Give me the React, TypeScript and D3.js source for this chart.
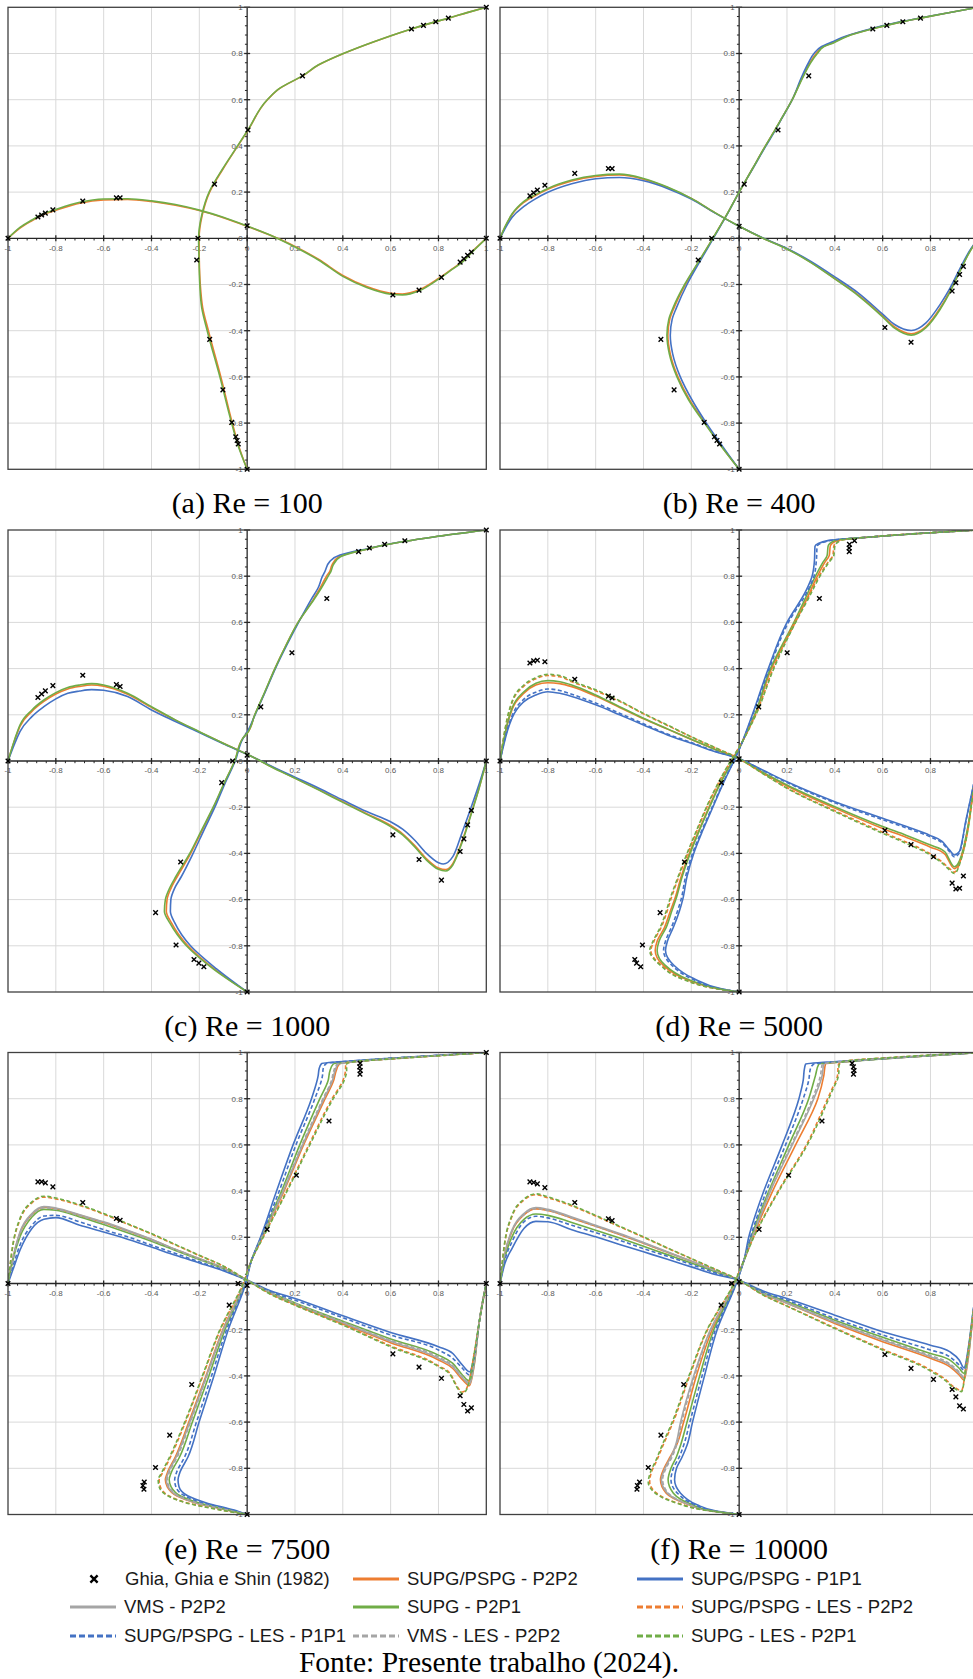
import React from 'react';
import * as d3 from 'd3';

type Pt = [number, number];

// ---------- layout ----------
const W = 973;
const H = 1679;
const PW = 478.3;
const PH = 462;

// ---------- axis ticks ----------
const tickValues = [-1, -0.8, -0.6, -0.4, -0.2, 0, 0.2, 0.4, 0.6, 0.8, 1];
const tickLabels = ['-1', '-0.8', '-0.6', '-0.4', '-0.2', '0', '0.2', '0.4', '0.6', '0.8', '1'];
const minorTicks = d3.range(-25, 26).map((i) => i * 0.04).filter((t) => Math.abs(Math.round(t * 5) - t * 5) > 1e-6);

// ---------- series ----------
const seriesKeys = ['P2P2', 'P1P1', 'VMS', 'P2P1', 'LES_P2P2', 'LES_P1P1', 'LES_VMS', 'LES_P2P1'];
const seriesLabels: Record<string, string> = {
  P2P2: 'SUPG/PSPG - P2P2',
  P1P1: 'SUPG/PSPG - P1P1',
  VMS: 'VMS - P2P2',
  P2P1: 'SUPG - P2P1',
  LES_P2P2: 'SUPG/PSPG - LES - P2P2',
  LES_P1P1: 'SUPG/PSPG - LES - P1P1',
  LES_VMS: 'VMS - LES - P2P2',
  LES_P2P1: 'SUPG - LES - P2P1',
};
const seriesColors: Record<string, string> = {
  P2P2: '#ED7D31', P1P1: '#4472C4', VMS: '#A5A5A5', P2P1: '#70AD47',
  LES_P2P2: '#ED7D31', LES_P1P1: '#4472C4', LES_VMS: '#A5A5A5', LES_P2P1: '#70AD47',
};
const dashedSeries = ['LES_P2P2', 'LES_P1P1', 'LES_VMS', 'LES_P2P1'];

// ---------- Ghia, Ghia e Shin (1982): u(y) on the vertical centre line [u, y], v(x) on the horizontal one [x, v] ----------
const ghiaU100: Pt[] = [[0,-1],[-0.03717,-0.8906],[-0.04192,-0.875],[-0.04775,-0.8594],[-0.06434,-0.7968],[-0.1015,-0.6562],[-0.15662,-0.4374],[-0.2109,-0.0938],[-0.20581,0],[-0.13641,0.2344],[0.00332,0.4688],[0.23151,0.7032],[0.68717,0.9062],[0.73722,0.9218],[0.78871,0.9376],[0.84123,0.9532],[1,1]];
const ghiaV100: Pt[] = [[-1,0],[-0.875,0.09233],[-0.8594,0.10091],[-0.8438,0.1089],[-0.8124,0.12317],[-0.6874,0.16077],[-0.5468,0.17507],[-0.5312,0.17527],[0,0.05454],[0.6094,-0.24533],[0.7188,-0.22445],[0.8126,-0.16914],[0.8906,-0.10313],[0.9062,-0.08864],[0.9218,-0.07391],[0.9376,-0.05906],[1,0]];

const ghiaU400: Pt[] = [[0,-1],[-0.08186,-0.8906],[-0.09266,-0.875],[-0.10338,-0.8594],[-0.14612,-0.7968],[-0.272,-0.6562],[-0.32726,-0.4374],[-0.17119,-0.0938],[-0.11477,0],[0.02135,0.2344],[0.16256,0.4688],[0.29093,0.7032],[0.55892,0.9062],[0.61756,0.9218],[0.68439,0.9376],[0.75837,0.9532],[1,1]];
const ghiaV400: Pt[] = [[-1,0],[-0.875,0.1836],[-0.8594,0.19713],[-0.8438,0.2092],[-0.8124,0.22965],[-0.6874,0.28124],[-0.5468,0.30203],[-0.5312,0.30174],[0,0.05186],[0.6094,-0.38598],[0.7188,-0.44993],[0.8906,-0.22847],[0.9062,-0.19254],[0.9218,-0.15663],[0.9376,-0.12146],[1,0]];

const ghiaU1000: Pt[] = [[0,-1],[-0.18109,-0.8906],[-0.20196,-0.875],[-0.2222,-0.8594],[-0.2973,-0.7968],[-0.38289,-0.6562],[-0.27805,-0.4374],[-0.10648,-0.0938],[-0.0608,0],[0.05702,0.2344],[0.18719,0.4688],[0.33304,0.7032],[0.46604,0.9062],[0.51117,0.9218],[0.57492,0.9376],[0.65928,0.9532],[1,1]];
const ghiaV1000: Pt[] = [[-1,0],[-0.875,0.27485],[-0.8594,0.29012],[-0.8438,0.30353],[-0.8124,0.32627],[-0.6874,0.37095],[-0.5468,0.33075],[-0.5312,0.32235],[0,0.02526],[0.6094,-0.31966],[0.7188,-0.42665],[0.8126,-0.5155],[0.8906,-0.39188],[0.9062,-0.33714],[0.9218,-0.27669],[0.9376,-0.21388],[1,0]];

const ghiaU5000: Pt[] = [[0,-1],[-0.41165,-0.8906],[-0.42901,-0.875],[-0.43643,-0.8594],[-0.40435,-0.7968],[-0.3305,-0.6562],[-0.22855,-0.4374],[-0.07404,-0.0938],[-0.03039,0],[0.08183,0.2344],[0.20087,0.4688],[0.33556,0.7032],[0.46036,0.9062],[0.45992,0.9218],[0.4612,0.9376],[0.48223,0.9532],[1,1]];
const ghiaV5000: Pt[] = [[-1,0],[-0.875,0.42447],[-0.8594,0.43329],[-0.8438,0.43648],[-0.8124,0.42951],[-0.6874,0.35368],[-0.5468,0.28066],[-0.5312,0.2728],[0,0.00945],[0.6094,-0.30018],[0.7188,-0.36214],[0.8126,-0.41442],[0.8906,-0.52876],[0.9062,-0.55408],[0.9218,-0.55069],[0.9376,-0.49774],[1,0]];

const ghiaU7500: Pt[] = [[0,-1],[-0.43154,-0.8906],[-0.4359,-0.875],[-0.43025,-0.8594],[-0.38324,-0.7968],[-0.32393,-0.6562],[-0.23176,-0.4374],[-0.07503,-0.0938],[-0.038,0],[0.08342,0.2344],[0.20591,0.4688],[0.34228,0.7032],[0.47167,0.9062],[0.47323,0.9218],[0.47048,0.9376],[0.47244,0.9532],[1,1]];
const ghiaV7500: Pt[] = [[-1,0],[-0.875,0.43979],[-0.8594,0.4403],[-0.8438,0.43564],[-0.8124,0.41824],[-0.6874,0.3506],[-0.5468,0.28117],[-0.5312,0.27348],[0,-0.00824],[0.6094,-0.30448],[0.7188,-0.36213],[0.8126,-0.4105],[0.8906,-0.4859],[0.9062,-0.52347],[0.9218,-0.55216],[0.9376,-0.53858],[1,0]];

const ghiaU10000: Pt[] = [[0,-1],[-0.42735,-0.8906],[-0.42537,-0.875],[-0.41657,-0.8594],[-0.38,-0.7968],[-0.32709,-0.6562],[-0.23186,-0.4374],[-0.0754,-0.0938],[-0.03111,0],[0.08344,0.2344],[0.20673,0.4688],[0.34635,0.7032],[0.47804,0.9062],[0.4807,0.9218],[0.47783,0.9376],[0.47221,0.9532],[1,1]];
const ghiaV10000: Pt[] = [[-1,0],[-0.875,0.43983],[-0.8594,0.43733],[-0.8438,0.43124],[-0.8124,0.41487],[-0.6874,0.3507],[-0.5468,0.28003],[-0.5312,0.27224],[0,0.00831],[0.6094,-0.30719],[0.7188,-0.36737],[0.8126,-0.41496],[0.8906,-0.45863],[0.9062,-0.49099],[0.9218,-0.52987],[0.9376,-0.54302],[1,0]];

// ---------- simulated profiles, Re = 100 ----------
const u100: Record<string, Pt[]> = {
  P2P2: [[0,-1],[-0.035,-0.9],[-0.062,-0.8],[-0.11,-0.6],[-0.162,-0.4],[-0.186,-0.3],[-0.196,-0.2],[-0.2,-0.1],[-0.201,0],[-0.188,0.1],[-0.157,0.2],[-0.101,0.3],[-0.039,0.4],[0.004,0.469],[0.085,0.6],[0.138,0.65],[0.232,0.703],[0.298,0.75],[0.403,0.8],[0.528,0.85],[0.668,0.9],[0.79,0.938],[0.842,0.953],[0.92,0.977],[1,1]],
  P2P1: [[0,-1],[-0.037,-0.9],[-0.065,-0.8],[-0.114,-0.6],[-0.167,-0.4],[-0.19,-0.3],[-0.198,-0.2],[-0.201,-0.1],[-0.203,0],[-0.19,0.1],[-0.159,0.2],[-0.103,0.3],[-0.04,0.4],[0.003,0.469],[0.084,0.6],[0.137,0.65],[0.231,0.703],[0.297,0.75],[0.402,0.8],[0.527,0.85],[0.667,0.9],[0.789,0.938],[0.841,0.953],[0.92,0.977],[1,1]],
};
const v100: Record<string, Pt[]> = {
  P2P2: [[-1,0],[-0.95,0.044],[-0.9,0.076],[-0.85,0.104],[-0.8,0.121],[-0.7,0.152],[-0.6,0.166],[-0.5,0.168],[-0.4,0.159],[-0.3,0.143],[-0.2,0.12],[-0.1,0.089],[0,0.052],[0.1,0.012],[0.2,-0.035],[0.3,-0.092],[0.4,-0.161],[0.5,-0.209],[0.6,-0.238],[0.65,-0.241],[0.72,-0.223],[0.8,-0.174],[0.85,-0.138],[0.9,-0.1],[0.95,-0.048],[1,0]],
  P2P1: [[-1,0],[-0.95,0.047],[-0.9,0.079],[-0.85,0.107],[-0.8,0.125],[-0.7,0.156],[-0.6,0.17],[-0.5,0.171],[-0.4,0.162],[-0.3,0.146],[-0.2,0.122],[-0.1,0.091],[0,0.053],[0.1,0.012],[0.2,-0.038],[0.3,-0.095],[0.4,-0.165],[0.5,-0.213],[0.6,-0.242],[0.65,-0.245],[0.72,-0.227],[0.8,-0.177],[0.85,-0.14],[0.9,-0.103],[0.95,-0.05],[1,0]],
};

// ---------- Re = 400 ----------
const u400: Record<string, Pt[]> = {
  P2P2: [[0,-1],[-0.074,-0.9],[-0.142,-0.8],[-0.207,-0.7],[-0.256,-0.6],[-0.288,-0.5],[-0.298,-0.42],[-0.29,-0.35],[-0.272,-0.3],[-0.225,-0.2],[-0.168,-0.1],[-0.11,0],[-0.053,0.1],[0,0.2],[0.055,0.3],[0.11,0.4],[0.15,0.469],[0.167,0.5],[0.222,0.6],[0.266,0.7],[0.296,0.76],[0.322,0.8],[0.352,0.83],[0.394,0.848],[0.45,0.875],[0.558,0.907],[0.684,0.938],[0.758,0.953],[0.87,0.975],[1,1]],
  P1P1: [[0,-1],[-0.07,-0.9],[-0.137,-0.8],[-0.197,-0.7],[-0.246,-0.6],[-0.278,-0.5],[-0.288,-0.42],[-0.28,-0.35],[-0.262,-0.3],[-0.218,-0.2],[-0.164,-0.1],[-0.108,0],[-0.052,0.1],[0,0.2],[0.056,0.3],[0.112,0.4],[0.152,0.469],[0.168,0.5],[0.222,0.6],[0.262,0.7],[0.29,0.76],[0.313,0.8],[0.345,0.83],[0.388,0.85],[0.448,0.876],[0.556,0.908],[0.683,0.939],[0.757,0.954],[0.87,0.975],[1,1]],
  P2P1: [[0,-1],[-0.075,-0.9],[-0.145,-0.8],[-0.211,-0.7],[-0.26,-0.6],[-0.292,-0.5],[-0.302,-0.42],[-0.294,-0.35],[-0.276,-0.3],[-0.228,-0.2],[-0.169,-0.1],[-0.11,0],[-0.053,0.1],[0,0.2],[0.055,0.3],[0.11,0.4],[0.15,0.469],[0.167,0.5],[0.222,0.6],[0.268,0.7],[0.299,0.76],[0.327,0.8],[0.355,0.83],[0.396,0.847],[0.451,0.874],[0.559,0.907],[0.684,0.938],[0.758,0.953],[0.87,0.975],[1,1]],
};
const v400: Record<string, Pt[]> = {
  P2P2: [[-1,0],[-0.98,0.046],[-0.95,0.102],[-0.9,0.156],[-0.85,0.186],[-0.8,0.212],[-0.7,0.248],[-0.6,0.268],[-0.5,0.274],[-0.4,0.256],[-0.3,0.22],[-0.2,0.172],[-0.1,0.11],[0,0.052],[0.1,0],[0.2,-0.045],[0.3,-0.104],[0.4,-0.174],[0.5,-0.247],[0.6,-0.336],[0.65,-0.384],[0.72,-0.413],[0.78,-0.383],[0.84,-0.303],[0.88,-0.232],[0.92,-0.147],[0.96,-0.065],[1,0]],
  P1P1: [[-1,0],[-0.98,0.04],[-0.95,0.09],[-0.9,0.138],[-0.85,0.172],[-0.8,0.199],[-0.7,0.236],[-0.6,0.258],[-0.5,0.263],[-0.4,0.249],[-0.3,0.216],[-0.2,0.17],[-0.1,0.109],[0,0.052],[0.1,0.001],[0.2,-0.044],[0.3,-0.1],[0.4,-0.167],[0.5,-0.238],[0.6,-0.328],[0.65,-0.373],[0.72,-0.399],[0.78,-0.367],[0.84,-0.287],[0.88,-0.219],[0.92,-0.138],[0.96,-0.06],[1,0]],
  P2P1: [[-1,0],[-0.98,0.048],[-0.95,0.105],[-0.9,0.16],[-0.85,0.19],[-0.8,0.216],[-0.7,0.252],[-0.6,0.272],[-0.5,0.278],[-0.4,0.259],[-0.3,0.222],[-0.2,0.173],[-0.1,0.11],[0,0.052],[0.1,0],[0.2,-0.046],[0.3,-0.105],[0.4,-0.176],[0.5,-0.25],[0.6,-0.34],[0.65,-0.389],[0.72,-0.419],[0.78,-0.388],[0.84,-0.308],[0.88,-0.236],[0.92,-0.15],[0.96,-0.066],[1,0]],
};

// ---------- Re = 1000 ----------
const u1000: Record<string, Pt[]> = {
  P2P2: [[0,-1],[-0.138,-0.9],[-0.248,-0.8],[-0.317,-0.7],[-0.338,-0.65],[-0.335,-0.6],[-0.318,-0.55],[-0.292,-0.5],[-0.236,-0.4],[-0.188,-0.3],[-0.14,-0.2],[-0.097,-0.1],[-0.052,0],[-0.017,0.1],[0,0.12],[0.032,0.2],[0.075,0.3],[0.116,0.4],[0.162,0.5],[0.213,0.6],[0.277,0.7],[0.306,0.75],[0.332,0.8],[0.345,0.82],[0.355,0.849],[0.385,0.885],[0.44,0.903],[0.5,0.917],[0.575,0.935],[0.66,0.951],[0.78,0.97],[1,1]],
  P1P1: [[0,-1],[-0.128,-0.9],[-0.237,-0.8],[-0.303,-0.7],[-0.321,-0.65],[-0.319,-0.6],[-0.303,-0.55],[-0.275,-0.5],[-0.226,-0.4],[-0.181,-0.3],[-0.135,-0.2],[-0.094,-0.1],[-0.05,0],[-0.016,0.1],[0,0.125],[0.033,0.2],[0.076,0.3],[0.118,0.4],[0.165,0.5],[0.215,0.6],[0.268,0.7],[0.297,0.75],[0.315,0.8],[0.325,0.82],[0.346,0.864],[0.388,0.892],[0.44,0.906],[0.5,0.918],[0.575,0.935],[0.66,0.951],[0.78,0.97],[1,1]],
  P2P1: [[0,-1],[-0.142,-0.9],[-0.254,-0.8],[-0.324,-0.7],[-0.346,-0.65],[-0.342,-0.6],[-0.324,-0.55],[-0.298,-0.5],[-0.24,-0.4],[-0.191,-0.3],[-0.142,-0.2],[-0.098,-0.1],[-0.052,0],[-0.017,0.1],[0,0.12],[0.032,0.2],[0.074,0.3],[0.116,0.4],[0.162,0.5],[0.213,0.6],[0.28,0.7],[0.311,0.75],[0.339,0.8],[0.35,0.82],[0.36,0.849],[0.39,0.884],[0.44,0.902],[0.5,0.917],[0.575,0.935],[0.66,0.951],[0.78,0.97],[1,1]],
};
const v1000: Record<string, Pt[]> = {
  P2P2: [[-1,0],[-0.97,0.096],[-0.95,0.15],[-0.9,0.215],[-0.85,0.258],[-0.8,0.29],[-0.75,0.312],[-0.7,0.323],[-0.65,0.329],[-0.6,0.324],[-0.5,0.289],[-0.4,0.232],[-0.3,0.177],[-0.2,0.126],[-0.1,0.077],[0,0.029],[0.05,0.003],[0.1,-0.024],[0.2,-0.074],[0.3,-0.124],[0.4,-0.176],[0.5,-0.228],[0.6,-0.279],[0.65,-0.315],[0.7,-0.365],[0.75,-0.423],[0.8,-0.463],[0.83,-0.47],[0.86,-0.444],[0.9,-0.343],[0.94,-0.216],[0.97,-0.116],[1,0]],
  P1P1: [[-1,0],[-0.97,0.08],[-0.95,0.127],[-0.9,0.192],[-0.85,0.235],[-0.8,0.269],[-0.75,0.293],[-0.7,0.303],[-0.65,0.309],[-0.6,0.306],[-0.5,0.279],[-0.4,0.221],[-0.3,0.171],[-0.2,0.123],[-0.1,0.075],[0,0.029],[0.05,0.004],[0.1,-0.022],[0.2,-0.07],[0.3,-0.118],[0.4,-0.169],[0.5,-0.219],[0.6,-0.263],[0.65,-0.295],[0.7,-0.342],[0.75,-0.4],[0.8,-0.44],[0.82,-0.446],[0.86,-0.414],[0.9,-0.306],[0.94,-0.19],[0.97,-0.1],[1,0]],
  P2P1: [[-1,0],[-0.97,0.1],[-0.95,0.156],[-0.9,0.221],[-0.85,0.264],[-0.8,0.296],[-0.75,0.318],[-0.7,0.329],[-0.65,0.335],[-0.6,0.329],[-0.5,0.293],[-0.4,0.235],[-0.3,0.178],[-0.2,0.127],[-0.1,0.077],[0,0.029],[0.05,0.003],[0.1,-0.025],[0.2,-0.075],[0.3,-0.126],[0.4,-0.179],[0.5,-0.231],[0.6,-0.284],[0.65,-0.32],[0.7,-0.371],[0.75,-0.429],[0.8,-0.469],[0.83,-0.476],[0.86,-0.45],[0.9,-0.349],[0.94,-0.22],[0.97,-0.118],[1,0]],
};

// ---------- Re = 5000 ----------
const u5000: Record<string, Pt[]> = {
  P2P2: [[0,-1],[-0.094,-0.985],[-0.222,-0.945],[-0.318,-0.884],[-0.351,-0.82],[-0.343,-0.78],[-0.312,-0.72],[-0.288,-0.65],[-0.27,-0.6],[-0.242,-0.5],[-0.208,-0.4],[-0.168,-0.3],[-0.126,-0.2],[-0.082,-0.1],[-0.029,0],[0,0.055],[0.066,0.2],[0.135,0.4],[0.235,0.6],[0.282,0.7],[0.327,0.8],[0.358,0.86],[0.377,0.89],[0.381,0.93],[0.41,0.955],[0.55,0.97],[0.75,0.985],[1,1]],
  P1P1: [[0,-1],[-0.078,-0.985],[-0.19,-0.942],[-0.273,-0.884],[-0.308,-0.82],[-0.3,-0.78],[-0.275,-0.72],[-0.25,-0.65],[-0.236,-0.6],[-0.218,-0.5],[-0.19,-0.4],[-0.152,-0.3],[-0.11,-0.2],[-0.068,-0.1],[-0.022,0],[0,0.05],[0.055,0.2],[0.122,0.4],[0.2,0.6],[0.278,0.734],[0.305,0.8],[0.315,0.87],[0.317,0.929],[0.375,0.955],[0.55,0.97],[0.75,0.985],[1,1]],
  P2P1: [[0,-1],[-0.09,-0.985],[-0.215,-0.945],[-0.31,-0.884],[-0.343,-0.82],[-0.335,-0.78],[-0.305,-0.72],[-0.282,-0.65],[-0.265,-0.6],[-0.238,-0.5],[-0.205,-0.4],[-0.166,-0.3],[-0.124,-0.2],[-0.08,-0.1],[-0.028,0],[0,0.055],[0.065,0.2],[0.131,0.4],[0.229,0.6],[0.275,0.7],[0.319,0.8],[0.35,0.86],[0.368,0.89],[0.372,0.93],[0.4,0.955],[0.55,0.97],[0.75,0.985],[1,1]],
  LES_P2P2: [[0,-1],[-0.098,-0.985],[-0.231,-0.945],[-0.326,-0.884],[-0.369,-0.82],[-0.356,-0.78],[-0.326,-0.72],[-0.301,-0.65],[-0.286,-0.6],[-0.252,-0.5],[-0.215,-0.4],[-0.176,-0.3],[-0.135,-0.2],[-0.089,-0.1],[-0.035,0],[0,0.06],[0.069,0.2],[0.142,0.4],[0.232,0.6],[0.284,0.7],[0.334,0.8],[0.371,0.86],[0.392,0.89],[0.396,0.93],[0.42,0.955],[0.55,0.97],[0.75,0.985],[1,1]],
  LES_P1P1: [[0,-1],[-0.085,-0.985],[-0.2,-0.942],[-0.282,-0.884],[-0.316,-0.82],[-0.308,-0.78],[-0.283,-0.72],[-0.258,-0.65],[-0.243,-0.6],[-0.224,-0.5],[-0.195,-0.4],[-0.156,-0.3],[-0.113,-0.2],[-0.07,-0.1],[-0.023,0],[0,0.05],[0.057,0.2],[0.126,0.4],[0.206,0.6],[0.285,0.734],[0.313,0.8],[0.323,0.87],[0.326,0.929],[0.382,0.955],[0.55,0.97],[0.75,0.985],[1,1]],
  LES_P2P1: [[0,-1],[-0.1,-0.985],[-0.235,-0.945],[-0.33,-0.884],[-0.374,-0.82],[-0.36,-0.78],[-0.33,-0.72],[-0.305,-0.65],[-0.29,-0.6],[-0.255,-0.5],[-0.218,-0.4],[-0.178,-0.3],[-0.137,-0.2],[-0.09,-0.1],[-0.036,0],[0,0.06],[0.07,0.2],[0.145,0.4],[0.236,0.6],[0.288,0.7],[0.338,0.8],[0.375,0.86],[0.396,0.89],[0.4,0.93],[0.424,0.955],[0.55,0.97],[0.75,0.985],[1,1]],
};
const v5000: Record<string, Pt[]> = {
  P2P2: [[-1,0],[-0.97,0.155],[-0.95,0.222],[-0.9,0.293],[-0.85,0.329],[-0.8,0.339],[-0.75,0.335],[-0.7,0.322],[-0.6,0.281],[-0.5,0.232],[-0.4,0.183],[-0.3,0.138],[-0.2,0.093],[-0.1,0.05],[0,0.01],[0.1,-0.052],[0.2,-0.108],[0.4,-0.204],[0.6,-0.292],[0.7,-0.331],[0.8,-0.373],[0.86,-0.403],[0.9,-0.466],[0.93,-0.415],[0.96,-0.27],[0.98,-0.12],[1,0]],
  P1P1: [[-1,0],[-0.97,0.127],[-0.95,0.185],[-0.9,0.257],[-0.85,0.286],[-0.8,0.3],[-0.75,0.293],[-0.7,0.279],[-0.6,0.243],[-0.5,0.2],[-0.4,0.156],[-0.3,0.113],[-0.2,0.077],[-0.1,0.04],[0,0.01],[0.1,-0.04],[0.2,-0.09],[0.4,-0.176],[0.6,-0.248],[0.7,-0.284],[0.8,-0.323],[0.85,-0.349],[0.88,-0.386],[0.9,-0.407],[0.92,-0.393],[0.95,-0.248],[0.98,-0.104],[1,0]],
  P2P1: [[-1,0],[-0.97,0.16],[-0.95,0.228],[-0.9,0.3],[-0.85,0.337],[-0.8,0.348],[-0.75,0.343],[-0.7,0.329],[-0.6,0.286],[-0.5,0.235],[-0.4,0.185],[-0.3,0.139],[-0.2,0.094],[-0.1,0.05],[0,0.01],[0.1,-0.05],[0.2,-0.104],[0.4,-0.198],[0.6,-0.284],[0.7,-0.322],[0.8,-0.364],[0.86,-0.393],[0.9,-0.458],[0.93,-0.407],[0.96,-0.263],[0.98,-0.12],[1,0]],
  LES_P2P2: [[-1,0],[-0.97,0.18],[-0.95,0.252],[-0.9,0.324],[-0.85,0.356],[-0.8,0.37],[-0.75,0.365],[-0.7,0.343],[-0.6,0.304],[-0.5,0.258],[-0.4,0.204],[-0.3,0.154],[-0.2,0.104],[-0.1,0.057],[0,0.01],[0.1,-0.054],[0.2,-0.116],[0.4,-0.215],[0.6,-0.308],[0.7,-0.352],[0.8,-0.402],[0.85,-0.438],[0.88,-0.466],[0.9,-0.481],[0.93,-0.415],[0.96,-0.273],[0.98,-0.12],[1,0]],
  LES_P1P1: [[-1,0],[-0.97,0.135],[-0.95,0.195],[-0.9,0.268],[-0.85,0.298],[-0.8,0.312],[-0.75,0.305],[-0.7,0.289],[-0.6,0.251],[-0.5,0.207],[-0.4,0.161],[-0.3,0.117],[-0.2,0.08],[-0.1,0.042],[0,0.01],[0.1,-0.042],[0.2,-0.093],[0.4,-0.181],[0.6,-0.254],[0.7,-0.29],[0.8,-0.329],[0.85,-0.356],[0.88,-0.393],[0.9,-0.415],[0.92,-0.4],[0.95,-0.253],[0.98,-0.104],[1,0]],
  LES_P2P1: [[-1,0],[-0.97,0.185],[-0.95,0.257],[-0.9,0.329],[-0.85,0.361],[-0.8,0.375],[-0.75,0.37],[-0.7,0.347],[-0.6,0.308],[-0.5,0.261],[-0.4,0.206],[-0.3,0.156],[-0.2,0.105],[-0.1,0.058],[0,0.01],[0.1,-0.055],[0.2,-0.118],[0.4,-0.219],[0.6,-0.313],[0.7,-0.357],[0.8,-0.407],[0.85,-0.443],[0.88,-0.472],[0.9,-0.487],[0.93,-0.42],[0.96,-0.277],[0.98,-0.12],[1,0]],
};

// ---------- Re = 7500 ----------
const u7500: Record<string, Pt[]> = {
  P2P2: [[0,-1],[-0.088,-0.98],[-0.216,-0.95],[-0.293,-0.92],[-0.334,-0.88],[-0.342,-0.85],[-0.334,-0.82],[-0.3,-0.75],[-0.244,-0.6],[-0.172,-0.4],[-0.102,-0.2],[-0.012,0],[0.018,0.1],[0.063,0.2],[0.154,0.4],[0.236,0.6],[0.326,0.8],[0.362,0.88],[0.372,0.92],[0.386,0.95],[0.5,0.965],[0.75,0.984],[1,1]],
  P1P1: [[0,-1],[-0.059,-0.98],[-0.17,-0.95],[-0.247,-0.92],[-0.285,-0.88],[-0.289,-0.85],[-0.282,-0.82],[-0.247,-0.75],[-0.201,-0.6],[-0.139,-0.4],[-0.079,-0.2],[-0.006,0],[0.018,0.1],[0.056,0.2],[0.123,0.4],[0.192,0.6],[0.269,0.8],[0.297,0.9],[0.301,0.93],[0.311,0.952],[0.5,0.968],[0.75,0.985],[1,1]],
  VMS: [[0,-1],[-0.086,-0.98],[-0.212,-0.95],[-0.289,-0.92],[-0.33,-0.88],[-0.338,-0.85],[-0.33,-0.82],[-0.296,-0.75],[-0.24,-0.6],[-0.17,-0.4],[-0.1,-0.2],[-0.012,0],[0.018,0.1],[0.062,0.2],[0.151,0.4],[0.232,0.6],[0.321,0.8],[0.357,0.88],[0.367,0.92],[0.381,0.95],[0.5,0.965],[0.75,0.984],[1,1]],
  P2P1: [[0,-1],[-0.08,-0.98],[-0.2,-0.95],[-0.278,-0.92],[-0.318,-0.88],[-0.326,-0.85],[-0.318,-0.82],[-0.282,-0.75],[-0.229,-0.6],[-0.16,-0.4],[-0.093,-0.2],[-0.01,0],[0.018,0.1],[0.06,0.2],[0.144,0.4],[0.22,0.6],[0.304,0.8],[0.339,0.88],[0.346,0.92],[0.36,0.95],[0.5,0.966],[0.75,0.984],[1,1]],
  LES_P2P2: [[0,-1],[-0.11,-0.98],[-0.249,-0.95],[-0.326,-0.92],[-0.363,-0.88],[-0.368,-0.85],[-0.354,-0.82],[-0.32,-0.75],[-0.258,-0.6],[-0.185,-0.4],[-0.112,-0.2],[-0.016,0],[0.018,0.1],[0.066,0.2],[0.164,0.4],[0.258,0.6],[0.355,0.8],[0.401,0.88],[0.411,0.92],[0.412,0.95],[0.44,0.96],[0.6,0.972],[0.8,0.986],[1,1]],
  LES_P1P1: [[0,-1],[-0.066,-0.98],[-0.184,-0.95],[-0.26,-0.92],[-0.298,-0.88],[-0.303,-0.85],[-0.296,-0.82],[-0.261,-0.75],[-0.212,-0.6],[-0.149,-0.4],[-0.086,-0.2],[-0.008,0],[0.018,0.1],[0.058,0.2],[0.134,0.4],[0.204,0.6],[0.283,0.8],[0.315,0.9],[0.318,0.93],[0.33,0.952],[0.5,0.968],[0.75,0.985],[1,1]],
  LES_VMS: [[0,-1],[-0.084,-0.98],[-0.208,-0.95],[-0.285,-0.92],[-0.326,-0.88],[-0.334,-0.85],[-0.326,-0.82],[-0.292,-0.75],[-0.237,-0.6],[-0.168,-0.4],[-0.098,-0.2],[-0.011,0],[0.018,0.1],[0.061,0.2],[0.149,0.4],[0.229,0.6],[0.317,0.8],[0.353,0.88],[0.362,0.92],[0.376,0.95],[0.5,0.965],[0.75,0.984],[1,1]],
  LES_P2P1: [[0,-1],[-0.114,-0.98],[-0.254,-0.95],[-0.33,-0.92],[-0.368,-0.88],[-0.372,-0.85],[-0.358,-0.82],[-0.324,-0.75],[-0.261,-0.6],[-0.187,-0.4],[-0.114,-0.2],[-0.017,0],[0.018,0.1],[0.067,0.2],[0.167,0.4],[0.262,0.6],[0.36,0.8],[0.406,0.88],[0.416,0.92],[0.416,0.95],[0.444,0.96],[0.6,0.972],[0.8,0.986],[1,1]],
};
const v7500: Record<string, Pt[]> = {
  P2P2: [[-1,0],[-0.98,0.105],[-0.95,0.218],[-0.9,0.299],[-0.85,0.33],[-0.8,0.324],[-0.7,0.295],[-0.6,0.264],[-0.5,0.228],[-0.4,0.19],[-0.3,0.147],[-0.2,0.107],[-0.1,0.067],[0,0.014],[0.1,-0.043],[0.2,-0.09],[0.4,-0.174],[0.6,-0.256],[0.8,-0.331],[0.86,-0.368],[0.9,-0.416],[0.93,-0.442],[0.95,-0.35],[0.97,-0.17],[1,0]],
  P1P1: [[-1,0],[-0.98,0.058],[-0.95,0.144],[-0.9,0.238],[-0.85,0.278],[-0.8,0.285],[-0.7,0.252],[-0.6,0.223],[-0.5,0.192],[-0.4,0.158],[-0.3,0.122],[-0.2,0.089],[-0.1,0.055],[0,0.014],[0.1,-0.032],[0.2,-0.065],[0.4,-0.14],[0.6,-0.212],[0.8,-0.274],[0.86,-0.303],[0.9,-0.353],[0.93,-0.382],[0.95,-0.31],[0.97,-0.17],[1,0]],
  VMS: [[-1,0],[-0.98,0.108],[-0.95,0.223],[-0.9,0.303],[-0.85,0.333],[-0.8,0.327],[-0.7,0.298],[-0.6,0.267],[-0.5,0.231],[-0.4,0.192],[-0.3,0.148],[-0.2,0.108],[-0.1,0.068],[0,0.014],[0.1,-0.042],[0.2,-0.088],[0.4,-0.17],[0.6,-0.25],[0.8,-0.324],[0.86,-0.36],[0.9,-0.408],[0.93,-0.435],[0.95,-0.345],[0.97,-0.17],[1,0]],
  P2P1: [[-1,0],[-0.98,0.1],[-0.95,0.202],[-0.9,0.288],[-0.85,0.321],[-0.8,0.317],[-0.7,0.288],[-0.6,0.255],[-0.5,0.22],[-0.4,0.183],[-0.3,0.143],[-0.2,0.104],[-0.1,0.065],[0,0.014],[0.1,-0.04],[0.2,-0.084],[0.4,-0.163],[0.6,-0.24],[0.8,-0.31],[0.86,-0.346],[0.9,-0.396],[0.93,-0.422],[0.95,-0.335],[0.97,-0.17],[1,0]],
  LES_P2P2: [[-1,0],[-0.98,0.162],[-0.95,0.276],[-0.9,0.349],[-0.85,0.374],[-0.8,0.366],[-0.7,0.338],[-0.6,0.3],[-0.5,0.257],[-0.4,0.214],[-0.3,0.167],[-0.2,0.121],[-0.1,0.075],[0,0.014],[0.1,-0.047],[0.2,-0.093],[0.4,-0.178],[0.6,-0.27],[0.8,-0.356],[0.85,-0.392],[0.88,-0.449],[0.9,-0.47],[0.92,-0.449],[0.95,-0.3],[0.97,-0.17],[1,0]],
  LES_P1P1: [[-1,0],[-0.98,0.072],[-0.95,0.166],[-0.9,0.252],[-0.85,0.292],[-0.8,0.295],[-0.7,0.267],[-0.6,0.233],[-0.5,0.202],[-0.4,0.166],[-0.3,0.13],[-0.2,0.094],[-0.1,0.058],[0,0.014],[0.1,-0.036],[0.2,-0.072],[0.4,-0.148],[0.6,-0.223],[0.8,-0.288],[0.86,-0.324],[0.9,-0.367],[0.93,-0.396],[0.95,-0.32],[0.97,-0.17],[1,0]],
  LES_VMS: [[-1,0],[-0.98,0.104],[-0.95,0.215],[-0.9,0.296],[-0.85,0.327],[-0.8,0.322],[-0.7,0.293],[-0.6,0.262],[-0.5,0.226],[-0.4,0.188],[-0.3,0.146],[-0.2,0.106],[-0.1,0.066],[0,0.014],[0.1,-0.041],[0.2,-0.086],[0.4,-0.167],[0.6,-0.246],[0.8,-0.318],[0.86,-0.355],[0.9,-0.403],[0.93,-0.43],[0.95,-0.34],[0.97,-0.17],[1,0]],
  LES_P2P1: [[-1,0],[-0.98,0.166],[-0.95,0.281],[-0.9,0.353],[-0.85,0.378],[-0.8,0.37],[-0.7,0.341],[-0.6,0.303],[-0.5,0.259],[-0.4,0.216],[-0.3,0.169],[-0.2,0.122],[-0.1,0.076],[0,0.014],[0.1,-0.048],[0.2,-0.094],[0.4,-0.18],[0.6,-0.274],[0.8,-0.36],[0.85,-0.396],[0.88,-0.454],[0.9,-0.476],[0.92,-0.454],[0.95,-0.3],[0.97,-0.17],[1,0]],
};

// ---------- Re = 10000 ----------
const u10000: Record<string, Pt[]> = {
  P2P2: [[0,-1],[-0.13,-0.983],[-0.218,-0.955],[-0.305,-0.908],[-0.329,-0.85],[-0.314,-0.8],[-0.288,-0.75],[-0.262,-0.7],[-0.232,-0.6],[-0.179,-0.4],[-0.113,-0.2],[-0.018,0],[0.02,0.1],[0.057,0.2],[0.14,0.4],[0.236,0.6],[0.329,0.8],[0.354,0.9],[0.361,0.95],[0.5,0.965],[0.75,0.983],[1,1]],
  P1P1: [[0,-1],[-0.1,-0.984],[-0.176,-0.958],[-0.245,-0.908],[-0.27,-0.85],[-0.262,-0.8],[-0.238,-0.75],[-0.218,-0.7],[-0.195,-0.6],[-0.145,-0.4],[-0.092,-0.2],[-0.012,0],[0.02,0.1],[0.04,0.2],[0.103,0.4],[0.18,0.6],[0.25,0.8],[0.268,0.88],[0.273,0.93],[0.278,0.95],[0.5,0.966],[0.75,0.984],[1,1]],
  VMS: [[0,-1],[-0.13,-0.983],[-0.215,-0.955],[-0.3,-0.908],[-0.325,-0.85],[-0.31,-0.8],[-0.285,-0.75],[-0.266,-0.7],[-0.245,-0.6],[-0.19,-0.4],[-0.12,-0.2],[-0.018,0],[0.02,0.1],[0.055,0.2],[0.131,0.4],[0.222,0.6],[0.312,0.8],[0.347,0.9],[0.354,0.95],[0.5,0.965],[0.75,0.983],[1,1]],
  P2P1: [[0,-1],[-0.12,-0.983],[-0.2,-0.956],[-0.275,-0.908],[-0.297,-0.85],[-0.285,-0.8],[-0.262,-0.75],[-0.245,-0.7],[-0.218,-0.6],[-0.165,-0.4],[-0.106,-0.2],[-0.015,0],[0.02,0.1],[0.05,0.2],[0.124,0.4],[0.208,0.6],[0.291,0.8],[0.319,0.9],[0.333,0.95],[0.5,0.965],[0.75,0.983],[1,1]],
  LES_P2P2: [[0,-1],[-0.146,-0.98],[-0.255,-0.951],[-0.345,-0.908],[-0.374,-0.86],[-0.368,-0.82],[-0.346,-0.77],[-0.318,-0.7],[-0.276,-0.6],[-0.207,-0.4],[-0.132,-0.2],[-0.021,0],[0.02,0.1],[0.06,0.2],[0.163,0.4],[0.281,0.6],[0.37,0.8],[0.392,0.85],[0.406,0.88],[0.413,0.92],[0.413,0.94],[0.427,0.96],[0.66,0.98],[1,1]],
  LES_P1P1: [[0,-1],[-0.11,-0.984],[-0.185,-0.958],[-0.258,-0.908],[-0.285,-0.85],[-0.275,-0.8],[-0.25,-0.75],[-0.232,-0.7],[-0.206,-0.6],[-0.155,-0.4],[-0.099,-0.2],[-0.013,0],[0.02,0.1],[0.047,0.2],[0.114,0.4],[0.194,0.6],[0.268,0.8],[0.291,0.88],[0.298,0.93],[0.312,0.95],[0.5,0.966],[0.75,0.984],[1,1]],
  LES_VMS: [[0,-1],[-0.128,-0.983],[-0.212,-0.955],[-0.296,-0.908],[-0.32,-0.85],[-0.306,-0.8],[-0.28,-0.75],[-0.262,-0.7],[-0.24,-0.6],[-0.186,-0.4],[-0.118,-0.2],[-0.017,0],[0.02,0.1],[0.054,0.2],[0.128,0.4],[0.218,0.6],[0.306,0.8],[0.34,0.9],[0.348,0.95],[0.5,0.965],[0.75,0.983],[1,1]],
  LES_P2P1: [[0,-1],[-0.15,-0.98],[-0.26,-0.951],[-0.35,-0.908],[-0.38,-0.86],[-0.372,-0.82],[-0.35,-0.77],[-0.322,-0.7],[-0.28,-0.6],[-0.21,-0.4],[-0.134,-0.2],[-0.022,0],[0.02,0.1],[0.061,0.2],[0.166,0.4],[0.285,0.6],[0.375,0.8],[0.396,0.85],[0.41,0.88],[0.417,0.92],[0.417,0.94],[0.431,0.96],[0.66,0.98],[1,1]],
};
const v10000: Record<string, Pt[]> = {
  P2P2: [[-1,0],[-0.98,0.125],[-0.95,0.225],[-0.9,0.297],[-0.85,0.323],[-0.8,0.316],[-0.7,0.283],[-0.6,0.248],[-0.5,0.212],[-0.4,0.174],[-0.3,0.135],[-0.2,0.096],[-0.1,0.055],[0,0.014],[0.1,-0.045],[0.2,-0.086],[0.4,-0.173],[0.6,-0.252],[0.8,-0.324],[0.88,-0.36],[0.92,-0.396],[0.94,-0.418],[0.96,-0.31],[0.98,-0.12],[1,0]],
  P1P1: [[-1,0],[-0.98,0.085],[-0.95,0.151],[-0.9,0.238],[-0.85,0.269],[-0.8,0.267],[-0.7,0.233],[-0.6,0.202],[-0.5,0.169],[-0.4,0.137],[-0.3,0.105],[-0.2,0.072],[-0.1,0.039],[0,0.014],[0.1,-0.032],[0.2,-0.065],[0.4,-0.137],[0.6,-0.209],[0.8,-0.267],[0.88,-0.295],[0.92,-0.331],[0.94,-0.365],[0.96,-0.267],[0.98,-0.108],[1,0]],
  VMS: [[-1,0],[-0.98,0.13],[-0.95,0.231],[-0.9,0.303],[-0.85,0.329],[-0.8,0.321],[-0.7,0.288],[-0.6,0.252],[-0.5,0.216],[-0.4,0.177],[-0.3,0.137],[-0.2,0.097],[-0.1,0.056],[0,0.014],[0.1,-0.044],[0.2,-0.085],[0.4,-0.168],[0.6,-0.245],[0.8,-0.317],[0.88,-0.352],[0.92,-0.388],[0.94,-0.41],[0.96,-0.3],[0.98,-0.12],[1,0]],
  P2P1: [[-1,0],[-0.98,0.11],[-0.95,0.202],[-0.9,0.278],[-0.85,0.301],[-0.8,0.295],[-0.7,0.264],[-0.6,0.231],[-0.5,0.197],[-0.4,0.161],[-0.3,0.125],[-0.2,0.089],[-0.1,0.051],[0,0.014],[0.1,-0.04],[0.2,-0.078],[0.4,-0.159],[0.6,-0.233],[0.8,-0.303],[0.88,-0.331],[0.92,-0.367],[0.94,-0.389],[0.96,-0.29],[0.98,-0.115],[1,0]],
  LES_P2P2: [[-1,0],[-0.98,0.176],[-0.95,0.29],[-0.9,0.361],[-0.85,0.384],[-0.8,0.371],[-0.7,0.336],[-0.6,0.292],[-0.5,0.246],[-0.4,0.2],[-0.3,0.153],[-0.2,0.107],[-0.1,0.061],[0,0.014],[0.1,-0.049],[0.2,-0.097],[0.4,-0.192],[0.6,-0.284],[0.8,-0.374],[0.86,-0.413],[0.9,-0.449],[0.93,-0.463],[0.95,-0.35],[0.98,-0.122],[1,0]],
  LES_P1P1: [[-1,0],[-0.98,0.1],[-0.95,0.18],[-0.9,0.267],[-0.85,0.291],[-0.8,0.284],[-0.7,0.252],[-0.6,0.22],[-0.5,0.187],[-0.4,0.151],[-0.3,0.118],[-0.2,0.082],[-0.1,0.046],[0,0.014],[0.1,-0.038],[0.2,-0.072],[0.4,-0.151],[0.6,-0.223],[0.8,-0.288],[0.88,-0.317],[0.92,-0.353],[0.94,-0.375],[0.96,-0.28],[0.98,-0.11],[1,0]],
  LES_VMS: [[-1,0],[-0.98,0.126],[-0.95,0.226],[-0.9,0.298],[-0.85,0.324],[-0.8,0.316],[-0.7,0.284],[-0.6,0.248],[-0.5,0.213],[-0.4,0.175],[-0.3,0.135],[-0.2,0.096],[-0.1,0.055],[0,0.014],[0.1,-0.043],[0.2,-0.083],[0.4,-0.165],[0.6,-0.241],[0.8,-0.312],[0.88,-0.347],[0.92,-0.383],[0.94,-0.405],[0.96,-0.296],[0.98,-0.118],[1,0]],
  LES_P2P1: [[-1,0],[-0.98,0.18],[-0.95,0.295],[-0.9,0.365],[-0.85,0.388],[-0.8,0.375],[-0.7,0.339],[-0.6,0.295],[-0.5,0.248],[-0.4,0.202],[-0.3,0.154],[-0.2,0.108],[-0.1,0.062],[0,0.014],[0.1,-0.05],[0.2,-0.098],[0.4,-0.195],[0.6,-0.288],[0.8,-0.379],[0.86,-0.418],[0.9,-0.454],[0.93,-0.468],[0.95,-0.353],[0.98,-0.122],[1,0]],
};

// ---------- panels ----------
const panelCaptions = ['(a) Re = 100', '(b) Re = 400', '(c) Re = 1000', '(d) Re = 5000', '(e) Re = 7500', '(f) Re = 10000'];
const panelLefts = [8, 500, 8, 500, 8, 500];
const panelTops = [7.3, 7.3, 530, 530, 1052.5, 1052.5];
const panelU = [u100, u400, u1000, u5000, u7500, u10000];
const panelV = [v100, v400, v1000, v5000, v7500, v10000];
const panelGhiaU = [ghiaU100, ghiaU400, ghiaU1000, ghiaU5000, ghiaU7500, ghiaU10000];
const panelGhiaV = [ghiaV100, ghiaV400, ghiaV1000, ghiaV5000, ghiaV7500, ghiaV10000];

const SANS = '"Liberation Sans", Arial, Helvetica, sans-serif';
const SERIF = '"Liberation Serif", "Times New Roman", serif';

const crossPath = (s: number) => `M${-s},${-s}L${s},${s}M${-s},${s}L${s},${-s}`;

function Panel({ idx }: { idx: number }) {
  const left = panelLefts[idx];
  const top = panelTops[idx];
  const x = d3.scaleLinear().domain([-1, 1]).range([left, left + PW]);
  const y = d3.scaleLinear().domain([-1, 1]).range([top + PH, top]);
  const uLine = d3.line<Pt>().x((d) => x(d[0])).y((d) => y(d[1])).curve(d3.curveMonotoneY);
  const vLine = d3.line<Pt>().x((d) => x(d[0])).y((d) => y(d[1])).curve(d3.curveMonotoneX);
  const x0 = x(0);
  const y0 = y(0);
  const clipId = `clip-${idx}`;
  const uSet = panelU[idx];
  const vSet = panelV[idx];
  const keys = seriesKeys.filter((k) => uSet[k] || vSet[k]);

  return (
    <g>
      <defs>
        <clipPath id={clipId}>
          <rect x={left} y={top} width={PW} height={PH} />
        </clipPath>
      </defs>
      <rect x={left} y={top} width={PW} height={PH} fill="#ffffff" />
      {/* grid */}
      <g stroke="#d9d9d9" strokeWidth={1}>
        {tickValues.filter((t) => Math.abs(t) < 0.99 && t !== 0).map((t) => (
          <g key={`g${t}`}>
            <line x1={x(t)} x2={x(t)} y1={top} y2={top + PH} />
            <line x1={left} x2={left + PW} y1={y(t)} y2={y(t)} />
          </g>
        ))}
      </g>
      {/* axes through the origin */}
      <g stroke="#262626" strokeWidth={1.3}>
        <line x1={left} x2={left + PW} y1={y0} y2={y0} />
        <line x1={x0} x2={x0} y1={top} y2={top + PH} />
        {tickValues.map((t) => (
          <g key={`t${t}`}>
            <line x1={x(t)} x2={x(t)} y1={y0 - 3} y2={y0 + 3} />
            <line x1={x0 - 3} x2={x0 + 3} y1={y(t)} y2={y(t)} />
          </g>
        ))}
      </g>
      <g stroke="#262626" strokeWidth={1}>
        {minorTicks.map((t) => (
          <g key={`m${t}`}>
            <line x1={x(t)} x2={x(t)} y1={y0} y2={y0 + 2.2} />
            <line x1={x0 - 2.2} x2={x0} y1={y(t)} y2={y(t)} />
          </g>
        ))}
      </g>
      <g fontFamily={SANS} fontSize={8} fill="#595959">
        {tickValues.map((t, i) => (
          <text key={`xl${t}`} x={x(t)} y={y0 + 12.3} textAnchor="middle">{tickLabels[i]}</text>
        ))}
        {tickValues.map((t, i) => (
          <text key={`yl${t}`} x={x0 - 4.5} y={y(t)} dy="0.35em" textAnchor="end">{tickLabels[i]}</text>
        ))}
      </g>
      {/* computed profiles */}
      <g clipPath={`url(#${clipId})`} fill="none" strokeLinejoin="round">
        {keys.map((k) => (
          <g key={k} stroke={seriesColors[k]} strokeWidth={1.6}
             strokeDasharray={dashedSeries.includes(k) ? '4 2.5' : undefined}>
            {uSet[k] && <path d={uLine(uSet[k]) || ''} />}
            {vSet[k] && <path d={vLine(vSet[k]) || ''} />}
          </g>
        ))}
      </g>
      {/* frame */}
      <rect x={left} y={top} width={PW} height={PH} fill="none" stroke="#404040" strokeWidth={1.3} />
      {/* reference data */}
      <g stroke="#000000" strokeWidth={1.4} fill="none">
        {panelGhiaU[idx].map((d, i) => (
          <path key={`gu${i}`} d={crossPath(2.3)} transform={`translate(${x(d[0])},${y(d[1])})`} />
        ))}
        {panelGhiaV[idx].map((d, i) => (
          <path key={`gv${i}`} d={crossPath(2.3)} transform={`translate(${x(d[0])},${y(d[1])})`} />
        ))}
      </g>
      <text x={left + PW / 2} y={top + PH + 44} textAnchor="middle" fontFamily={SERIF} fontSize={30} fill="#000">
        {panelCaptions[idx]}
      </text>
    </g>
  );
}

// ---------- legend ----------
const legendRows: string[][] = [
  ['GHIA', 'P2P2', 'P1P1'],
  ['VMS', 'P2P1', 'LES_P2P2'],
  ['LES_P1P1', 'LES_VMS', 'LES_P2P1'],
];
const legendRowY = [1579, 1607, 1636];
const legendColX = [70, 353, 637];

function Legend() {
  return (
    <g fontFamily={SANS} fontSize={18.5} fill="#1a1a1a">
      {legendRows.map((row, r) =>
        row.map((k, c) => {
          const cy = legendRowY[r];
          const lx = legendColX[c];
          if (k === 'GHIA') {
            return (
              <g key={k}>
                <path d={crossPath(3.6)} transform={`translate(${lx + 24},${cy})`} stroke="#000" strokeWidth={2.4} fill="none" />
                <text x={lx + 55} y={cy} dy="0.35em">Ghia, Ghia e Shin (1982)</text>
              </g>
            );
          }
          return (
            <g key={k}>
              <line x1={lx} x2={lx + 46} y1={cy} y2={cy} stroke={seriesColors[k]} strokeWidth={3}
                    strokeDasharray={dashedSeries.includes(k) ? '6 3' : undefined} />
              <text x={lx + 54} y={cy} dy="0.35em">{seriesLabels[k]}</text>
            </g>
          );
        })
      )}
    </g>
  );
}

export default function App() {
  return (
    <svg width={W} height={H} viewBox={`0 0 ${W} ${H}`}
         style={{ position: 'absolute', left: 0, top: 0, background: '#ffffff' }}>
      <rect x={0} y={0} width={W} height={H} fill="#ffffff" />
      {panelCaptions.map((_, i) => <Panel key={i} idx={i} />)}
      <Legend />
      <text x={489} y={1672} textAnchor="middle" fontFamily={SERIF} fontSize={29.5} fill="#000">
        Fonte: Presente trabalho (2024).
      </text>
    </svg>
  );
}
